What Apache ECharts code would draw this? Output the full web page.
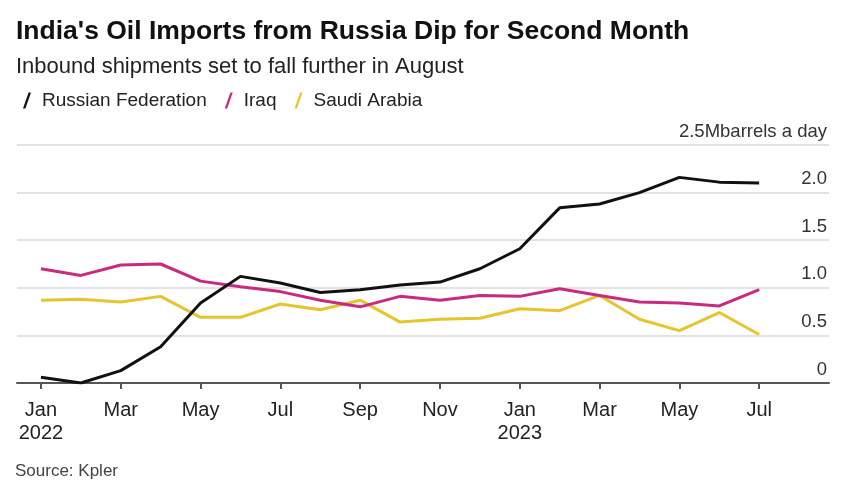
<!DOCTYPE html>
<html>
<head>
<meta charset="utf-8">
<script src="https://cdn.jsdelivr.net/npm/echarts@6/dist/echarts.min.js"></script>
<style>html,body{margin:0;padding:0;background:#fff;}#c{width:848px;height:498px;}</style>
</head>
<body>
<div id="c"></div>
<script>
const months = ['Jan\n2022','Feb','Mar','Apr','May','Jun','Jul','Aug','Sep','Oct','Nov','Dec','Jan\n2023','Feb','Mar','Apr','May','Jun','Jul'];
const tickIdx = [0,2,4,6,8,10,12,14,16,18];
const russia = [0.06, 0.0, 0.13, 0.38, 0.84, 1.12, 1.05, 0.95, 0.98, 1.03, 1.06, 1.20, 1.41, 1.84, 1.88, 2.00, 2.16, 2.11, 2.10];
const iraq   = [1.20, 1.13, 1.24, 1.25, 1.07, 1.01, 0.96, 0.87, 0.80, 0.91, 0.87, 0.92, 0.91, 0.99, 0.92, 0.85, 0.84, 0.81, 0.98];
const saudi  = [0.87, 0.88, 0.85, 0.91, 0.69, 0.69, 0.83, 0.77, 0.87, 0.64, 0.67, 0.68, 0.78, 0.76, 0.92, 0.67, 0.55, 0.74, 0.51];
const yTicks = {0:'0', 0.5:'0.5', 1:'1.0', 1.5:'1.5', 2:'2.0', 2.5:'2.5Mbarrels a day'};

const FONT = "'Liberation Sans', Arial, sans-serif";
const toPts = arr => arr.map((v,i)=>[i,v]);
const slash = 'path://M0,20 L7,0 L10,0 L3,20 Z';

const chart = echarts.init(document.getElementById('c'), null, {renderer:'canvas'});
chart.setOption({
  backgroundColor:'#fff',
  animation:false,
  textStyle:{fontFamily:FONT},
  title:[
    {text:"India's Oil Imports from Russia Dip for Second Month", left:11, top:13,
     textStyle:{fontFamily:FONT, fontWeight:'bold', fontSize:26.5, color:'#111'}},
    {text:'Inbound shipments set to fall further in August', left:11, top:51,
     textStyle:{fontFamily:FONT, fontWeight:'normal', fontSize:22, color:'#222'}}
  ],
  legend:{
    left:18, top:86, itemWidth:10, itemHeight:16, itemGap:18,
    data:[
      {name:'Russian Federation', icon:slash},
      {name:'Iraq', icon:slash},
      {name:'Saudi Arabia', icon:slash}
    ],
    textStyle:{fontFamily:FONT, fontSize:19, color:'#222', padding:[0,0,0,5]}
  },
  grid:{left:17, right:19, top:145, bottom:115},
  xAxis:{
    type:'value', min:-0.6, max:19.75,
    splitLine:{show:false},
    axisLine:{show:true, lineStyle:{color:'#555', width:2}},
    axisTick:{show:true, customValues:tickIdx, length:6, lineStyle:{color:'#555', width:2}},
    axisLabel:{customValues:tickIdx, formatter:v=>months[v], fontFamily:FONT, fontSize:20, color:'#222', lineHeight:23, margin:16}
  },
  yAxis:{
    type:'value', position:'right', min:0, max:2.5, interval:0.5,
    axisLine:{show:false}, axisTick:{show:false},
    splitLine:{show:true, lineStyle:{color:'#e2e2e2', width:2}},
    axisLabel:{inside:true, margin:2, verticalAlign:'bottom', padding:[0,0,4,0],
      formatter:v=>yTicks[v], fontFamily:FONT, fontSize:18.5, color:'#333'}
  },
  series:[
    {name:'Saudi Arabia', type:'line', data:toPts(saudi), showSymbol:false, symbol:'none', color:'#e6c42e', lineStyle:{width:3, color:'#e6c42e'}},
    {name:'Iraq', type:'line', data:toPts(iraq), showSymbol:false, symbol:'none', color:'#c92a80', lineStyle:{width:3, color:'#c92a80'}},
    {name:'Russian Federation', type:'line', data:toPts(russia), showSymbol:false, symbol:'none', color:'#111', lineStyle:{width:3, color:'#111'}}
  ],
  graphic:[
    {type:'text', left:15, top:463, style:{text:'Source: Kpler', font:"17px 'Liberation Sans', Arial, sans-serif", fill:'#444'}}
  ]
});
</script>
</body>
</html>
